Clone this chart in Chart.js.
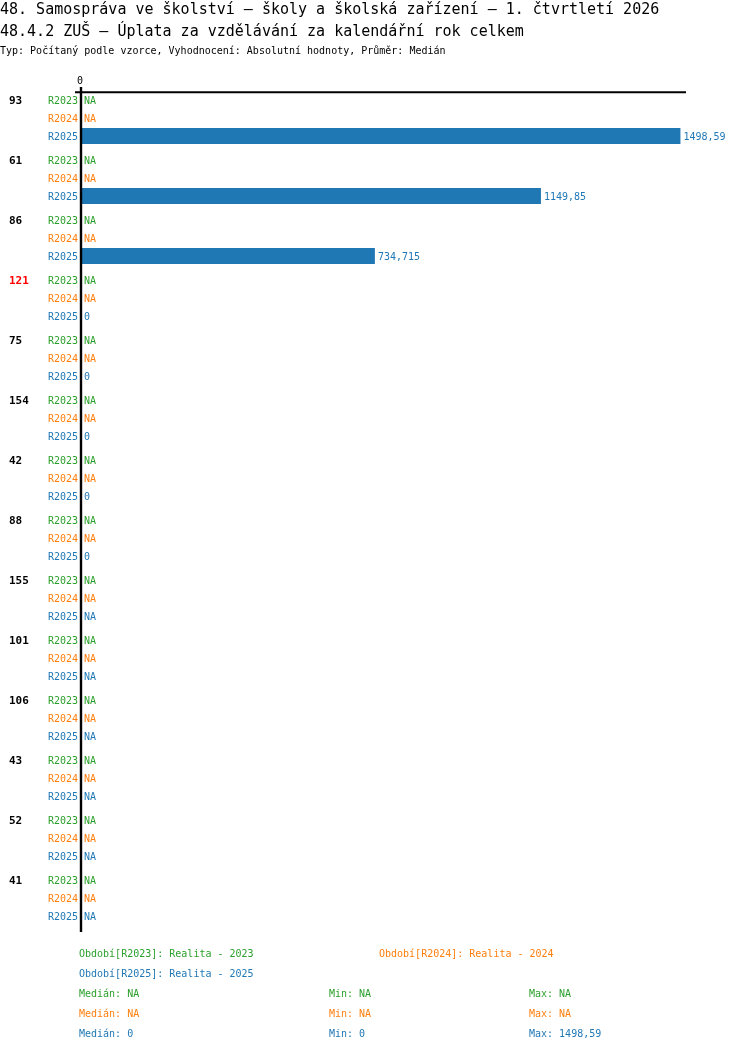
<!DOCTYPE html>
<html>
<head>
<meta charset="utf-8">
<script src="https://cdn.jsdelivr.net/npm/chart.js@4.4.1/dist/chart.umd.min.js"></script>
<style>
  html, body { margin: 0; padding: 0; background: #ffffff; }
  #wrap { position: relative; width: 750px; height: 1052px; overflow: hidden; font-family: "DejaVu Sans Mono", "Liberation Mono", monospace; }
  #c { position: absolute; left: 0; top: 0; }
  .t { position: absolute; white-space: pre; line-height: 20px; }
  .h1 { font-size: 15px; color: #000; }
  .h2 { font-size: 10px; color: #000; }
  .f { font-size: 10px; }
</style>
</head>
<body>
<div id="wrap">
  <canvas id="c" width="750" height="1052"></canvas>
  <div class="t h1" style="left:0;top:-1px;">48. Samospráva ve školství – školy a školská zařízení – 1. čtvrtletí 2026</div>
  <div class="t h1" style="left:0;top:21px;">48.4.2 ZUŠ – Úplata za vzdělávání za kalendářní rok celkem</div>
  <div class="t h2" style="left:0;top:41px;">Typ: Počítaný podle vzorce, Vyhodnocení: Absolutní hodnoty, Průměr: Medián</div>
  <div id="footer"></div>
</div>
<script>
// ---- data ----
const categories = ['93','61','86','121','75','154','42','88','155','101','106','43','52','41'];
const highlighted = ['121'];
const seriesNames = ['R2023','R2024','R2025'];
const seriesTitles = ['Realita - 2023','Realita - 2024','Realita - 2025'];
const r2023 = [null,null,null,null,null,null,null,null,null,null,null,null,null,null];
const r2024 = [null,null,null,null,null,null,null,null,null,null,null,null,null,null];
const r2025 = [1498.59,1149.85,734.715,0,0,0,0,0,null,null,null,null,null,null];
const axisMax = 1512.5;
const tickLabels = ['0'];
const statMedian = ['NA','NA','0'];
const statMin = ['NA','NA','0'];
const statMax = ['NA','NA','1498,59'];

const colors = ['#2ca02c','#ff7f0e','#1f77b4'];
const MONO = '"DejaVu Sans Mono", "Liberation Mono", monospace';

function fmt(v){ return v === null || v === undefined ? 'NA' : String(v).replace('.', ','); }

// footer (legend + stats) as real text
(function(){
  const f = document.getElementById('footer');
  const items = [];
  const legendPos = [[79,944],[379,944],[79,964]];
  seriesNames.forEach((s,i)=>{
    items.push({x:legendPos[i][0], y:legendPos[i][1], c:colors[i], t:'Období[' + s + ']: ' + seriesTitles[i]});
  });
  seriesNames.forEach((s,i)=>{
    const y = 984 + i*20;
    items.push({x:79, y:y, c:colors[i], t:'Medián: ' + statMedian[i]});
    items.push({x:329, y:y, c:colors[i], t:'Min: ' + statMin[i]});
    items.push({x:529, y:y, c:colors[i], t:'Max: ' + statMax[i]});
  });
  items.forEach(it=>{
    const d = document.createElement('div');
    d.className = 't f';
    d.style.left = it.x + 'px';
    d.style.top = it.y + 'px';
    d.style.color = it.c;
    d.textContent = it.t;
    f.appendChild(d);
  });
})();

const overlay = {
  id: 'overlay',
  afterDatasetsDraw(chart) {
    const ctx = chart.ctx;
    const xs = chart.scales.x, ys = chart.scales.y;
    const area = chart.chartArea;
    const x0 = xs.getPixelForValue(0);
    const step = ys.getPixelForTick(1) - ys.getPixelForTick(0);
    const slot = step * 0.9 / seriesNames.length;
    const data = [r2023, r2024, r2025];
    ctx.save();
    // axes lines
    ctx.strokeStyle = '#000';
    ctx.lineWidth = 2;
    ctx.beginPath();
    ctx.moveTo(x0 - 6, area.top + 4.3);
    ctx.lineTo(xs.getPixelForValue(axisMax), area.top + 4.3);
    ctx.stroke();
    ctx.lineWidth = 2.4;
    ctx.beginPath();
    ctx.moveTo(x0, area.top - 1);
    ctx.lineTo(x0, area.bottom + 4);
    ctx.stroke();
    // tick label
    ctx.fillStyle = '#000';
    ctx.font = '10px ' + MONO;
    ctx.textAlign = 'center';
    ctx.textBaseline = 'middle';
    tickLabels.forEach(t => ctx.fillText(t, xs.getPixelForValue(Number(t)) - 1, area.top - 7));
    categories.forEach((cat, i) => {
      const yc = ys.getPixelForValue(i);
      const top = yc - slot * seriesNames.length / 2;
      // group label
      ctx.font = 'bold 11px ' + MONO;
      ctx.textAlign = 'left';
      ctx.fillStyle = highlighted.includes(cat) ? '#ff0000' : '#000000';
      ctx.fillText(cat, 9, top + slot / 2 + 1);
      seriesNames.forEach((s, d) => {
        const y = top + slot * d + slot / 2 + 1;
        ctx.font = '10px ' + MONO;
        ctx.fillStyle = colors[d];
        ctx.textAlign = 'right';
        ctx.fillText(s, x0 - 3, y);
        const v = data[d][i];
        ctx.textAlign = 'left';
        const xv = (v === null ? x0 : xs.getPixelForValue(v)) + 3;
        ctx.fillText(fmt(v), xv, y);
      });
    });
    ctx.restore();
  }
};

new Chart(document.getElementById('c'), {
  type: 'bar',
  data: {
    labels: categories,
    datasets: [
      { label: seriesNames[0], data: r2023, backgroundColor: colors[0] },
      { label: seriesNames[1], data: r2024, backgroundColor: colors[1] },
      { label: seriesNames[2], data: r2025, backgroundColor: colors[2] }
    ]
  },
  options: {
    indexAxis: 'y',
    responsive: false,
    devicePixelRatio: 1,
    animation: false,
    categoryPercentage: 0.9,
    barPercentage: 16 / 18,
    layout: { padding: { left: 81, right: 64, top: 88, bottom: 124 } },
    scales: {
      x: { display: false, min: 0, max: axisMax },
      y: { display: false }
    },
    plugins: { legend: { display: false }, tooltip: { enabled: false }, title: { display: false } }
  },
  plugins: [overlay]
});
</script>
</body>
</html>
